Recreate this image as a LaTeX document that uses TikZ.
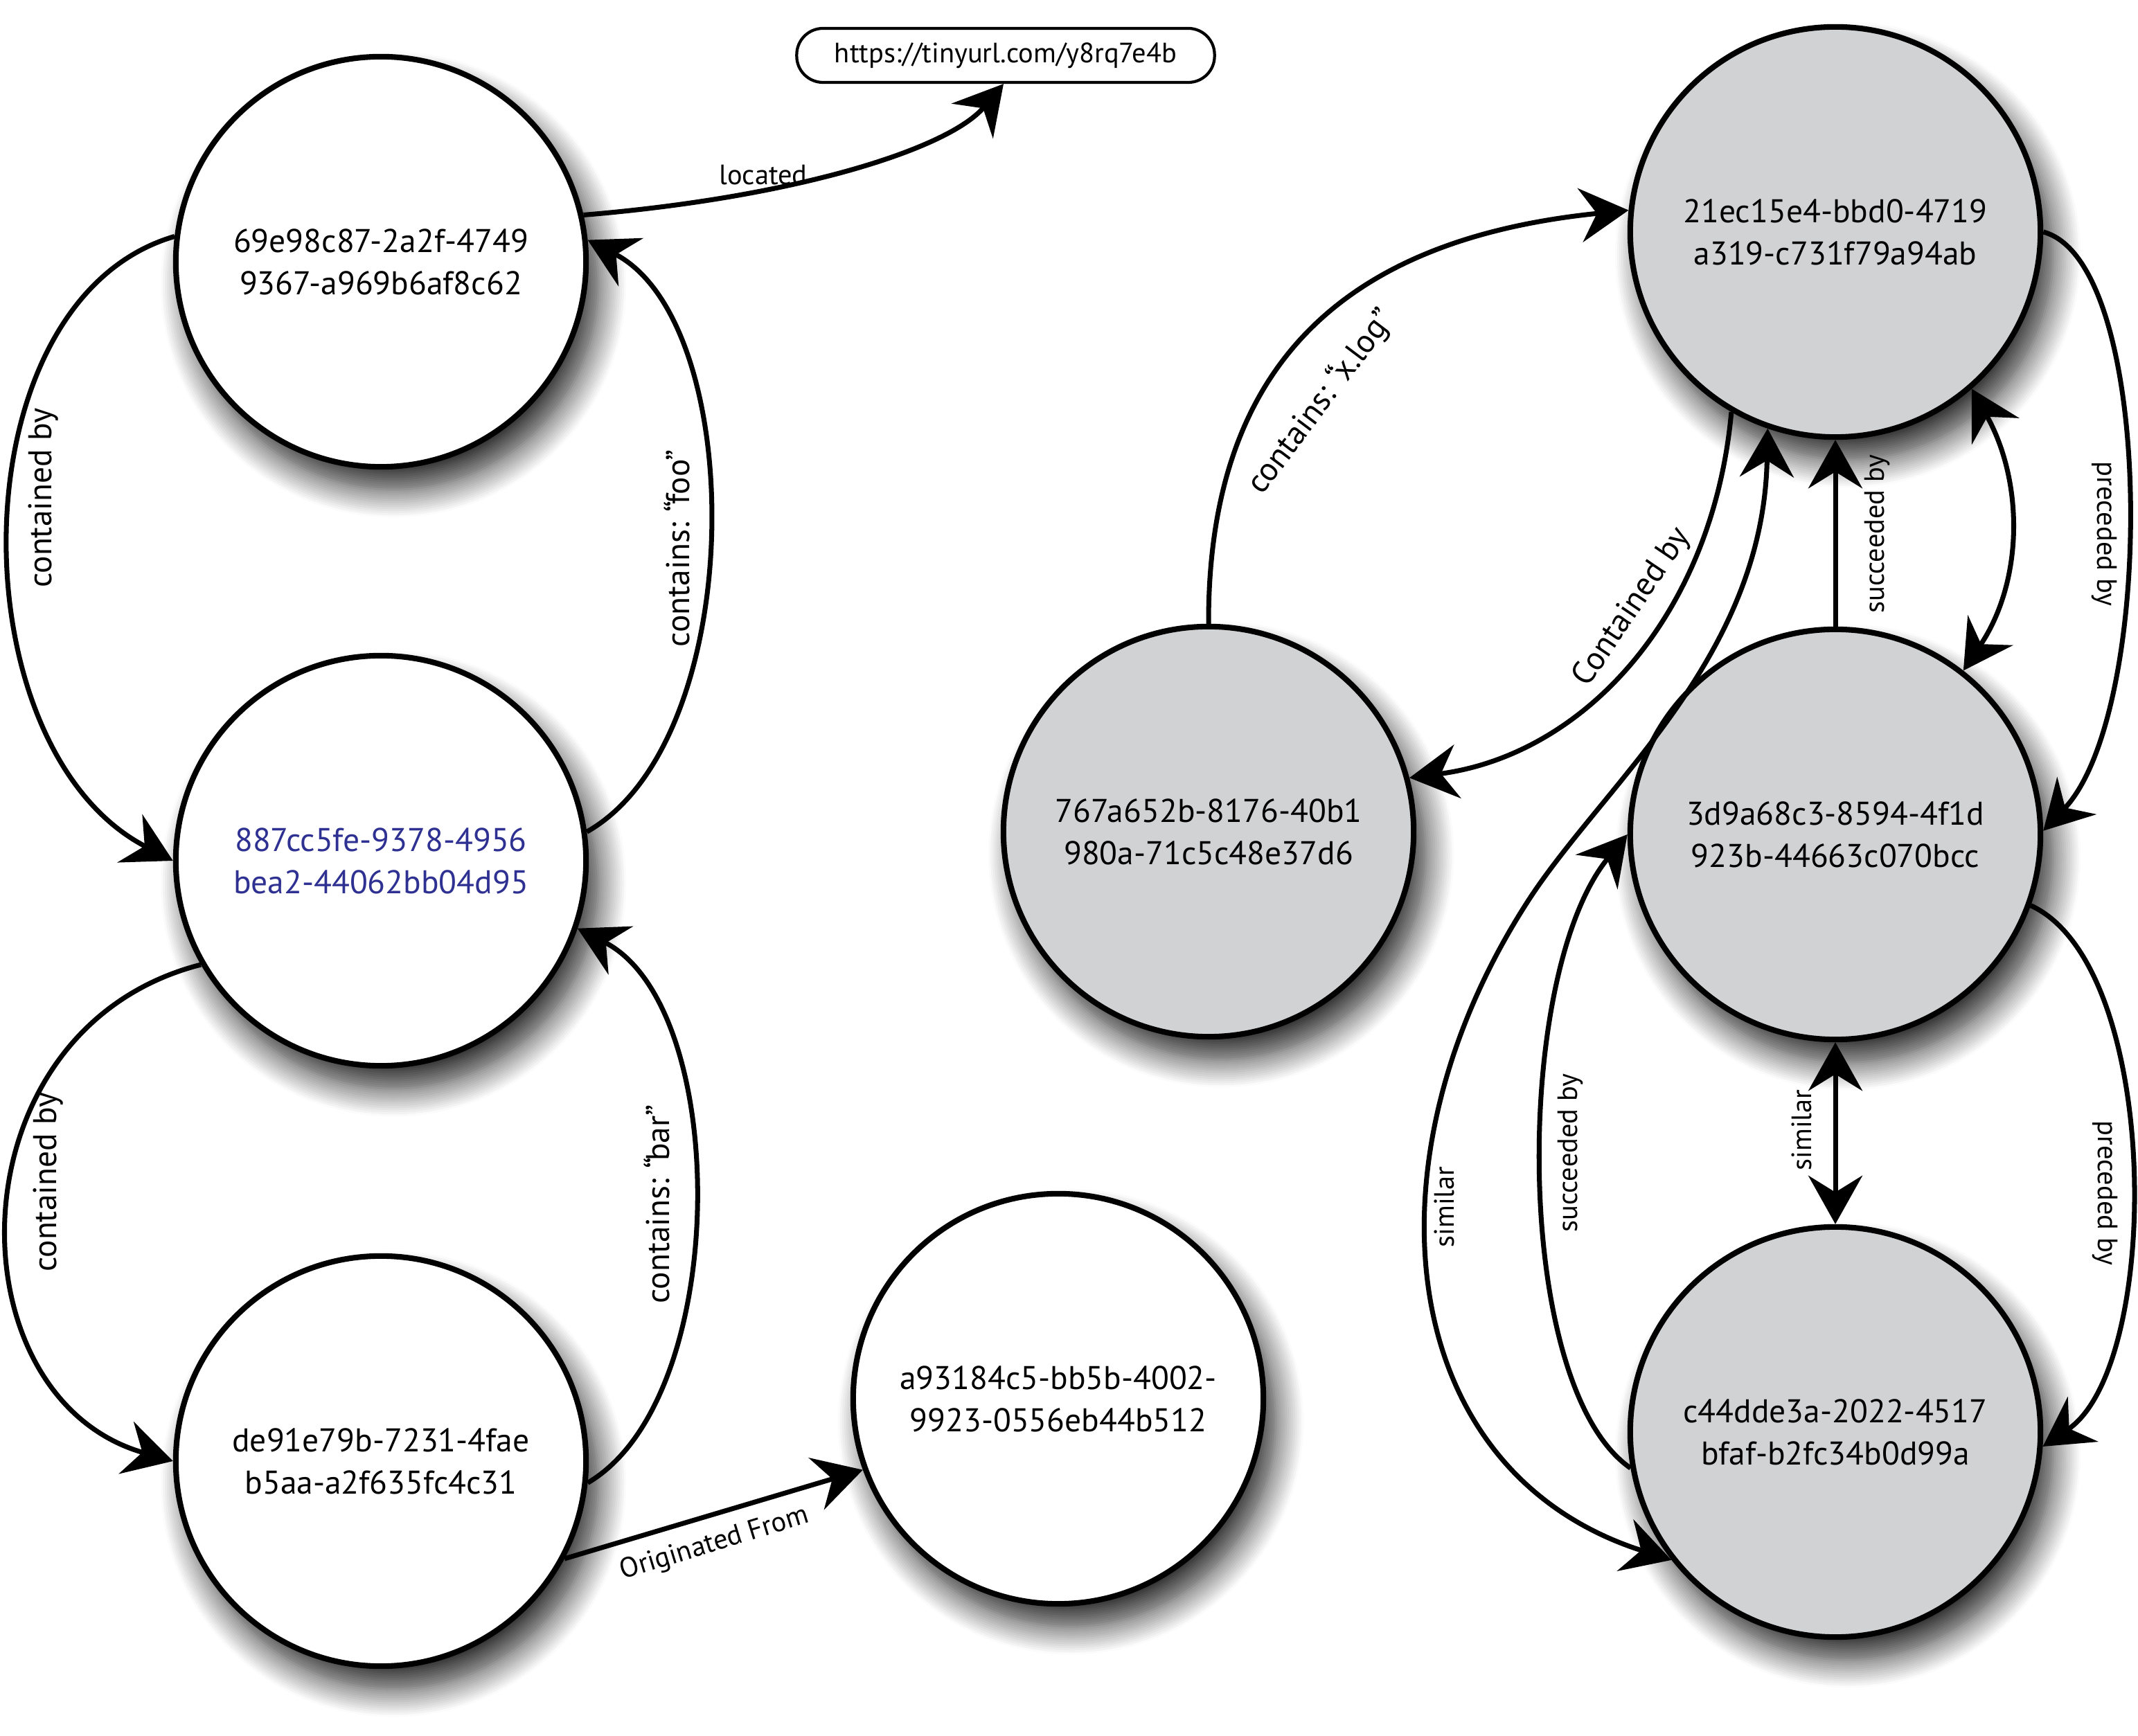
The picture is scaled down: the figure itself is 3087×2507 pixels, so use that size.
\documentclass[tikz,border=0pt]{standalone}
\usepackage{fontspec}
\setmainfont{PT Sans}
\usetikzlibrary{arrows.meta,shadows.blur}
\definecolor{nodegray}{RGB}{209,210,212}
\definecolor{nodeblue}{RGB}{46,49,146}
\begin{document}
\begin{tikzpicture}[x=0.01cm,y=-0.01cm,
  bigtip/.tip={Stealth[length=0.7cm,width=0.78cm,inset=0.24cm]},
  ent/.style={circle,draw=black,line width=2.3pt,minimum size=5.92cm,inner sep=0pt,fill=white,
    blur shadow={shadow xshift=0.18cm,shadow yshift=-0.33cm,shadow blur radius=0.4cm,shadow opacity=85,shadow blur steps=14},
    font=\fontsize{13.5}{17.4}\selectfont,align=center},
  grayent/.style={ent,fill=nodegray},
  rel/.style={line width=2pt,-bigtip},
  both/.style={line width=2pt,bigtip-bigtip},
  biglbl/.style={font=\fontsize{13.5}{16}\selectfont,inner sep=0pt},
  smalllbl/.style={font=\fontsize{11.5}{14}\selectfont,inner sep=0pt},
  urlbox/.style={draw,line width=1.2pt,rounded corners=0.38cm,minimum width=6.03cm,minimum height=0.78cm,inner sep=0pt,font=\fontsize{11.5}{14}\selectfont}
]
\useasboundingbox (0,0) rectangle (3087,2507);

% nodes
\node[ent] (A) at (550,378) {69e98c87-2a2f-4749\\9367-a969b6af8c62};
\node[ent,text=nodeblue] (B) at (550,1243) {887cc5fe-9378-4956\\bea2-44062bb04d95};
\node[ent] (C) at (550,2110) {de91e79b-7231-4fae\\b5aa-a2f635fc4c31};
\node[ent] (D) at (1528,2020) {a93184c5-bb5b-4002-\\9923-0556eb44b512};
\node[grayent] (E) at (1745,1201) {767a652b-8176-40b1\\980a-71c5c48e37d6};
\node[grayent] (F) at (2650,335) {21ec15e4-bbd0-4719\\a319-c731f79a94ab};
\node[grayent] (G) at (2650,1205) {3d9a68c3-8594-4f1d\\923b-44663c070bcc};
\node[grayent] (H) at (2650,2068) {c44dde3a-2022-4517\\bfaf-b2fc34b0d99a};
\node[urlbox] (url) at (1452,80) {https://tinyurl.com/y8rq7e4b};
\coordinate (m1) at (2207,1300);

% connectors
\draw[rel] (A.13) .. controls (1150,285) and (1370,215) .. ([xshift=-0.03cm]url.south);
\draw[rel] (A.173) .. controls (-65,434) and (-65,1080) .. (B.180);
\draw[rel] (B.8) .. controls (1081,1069) and (1081,466) .. (A.6);
\draw[rel] (B.210) .. controls (-73,1486) and (-73,2018) .. (C.180);
\draw[rel] (C.-6) .. controls (1056,2020) and (1056,1454) .. (B.-19);
\draw[rel] (C.-28) -- (D.200);
\draw[rel] (E.90) .. controls (1744,514) and (1956,344) .. (F.174);
\draw[rel] (F.240) .. controls (2473,888) and (2288,1090) .. (E.15);
\draw[rel] (G.north) -- (F.south);
\draw[rel] (F.0) .. controls (3113,378) and (3113,1029) .. (G.1);
\draw[both] (F.-49) .. controls (2922,696) and (2922,838) .. (G.52);
\draw[rel] (G.-20) .. controls (3122,1395) and (3122,1972) .. (H.-4);
\draw[both] (G.south) -- (H.north);
\draw[rel] (H.190) .. controls (2184,2003) and (2184,1407) .. (G.180);
\draw[both] (F.251) .. controls (2546,950) and (2316,1132) .. (m1) .. controls (1962,1678) and (2015,2126) .. (H.218);

% labels
\node[smalllbl] (l1) at (1102,253) {located};
\node[biglbl,rotate=90] (l2) at (63,719) {contained by};
\node[biglbl,rotate=90] (l3) at (977,792) {contains:\kern-0.05em{} “\kern-0.12em foo”};
\node[biglbl,rotate=90] (l4) at (70,1707) {contained by};
\node[biglbl,rotate=90] (l5) at (948,1739) {contains:\kern-0.05em{} “\kern-0.12em bar”};
\node[smalllbl,rotate=17] (l6) at (1032,2230) {Originated From};
\node[biglbl,rotate=53] (l7) at (1908,580) {contains:\kern-0.05em{} “\kern-0.15em x.log”};
\node[biglbl,rotate=56] (l8) at (2357,877) {Contained by};
\node[smalllbl,rotate=90] (l9) at (2710,771) {succeeded by};
\node[smalllbl,rotate=-90] (l10) at (3038,771) {preceded by};
\node[smalllbl,rotate=90] (l11) at (2601,1632) {similar};
\node[smalllbl,rotate=90] (l12) at (2267,1665) {succeeded by};
\node[smalllbl,rotate=-90] (l13) at (3039,1723) {preceded by};
\node[smalllbl,rotate=90] (l14) at (2085,1743) {similar};
\end{tikzpicture}
\end{document}
